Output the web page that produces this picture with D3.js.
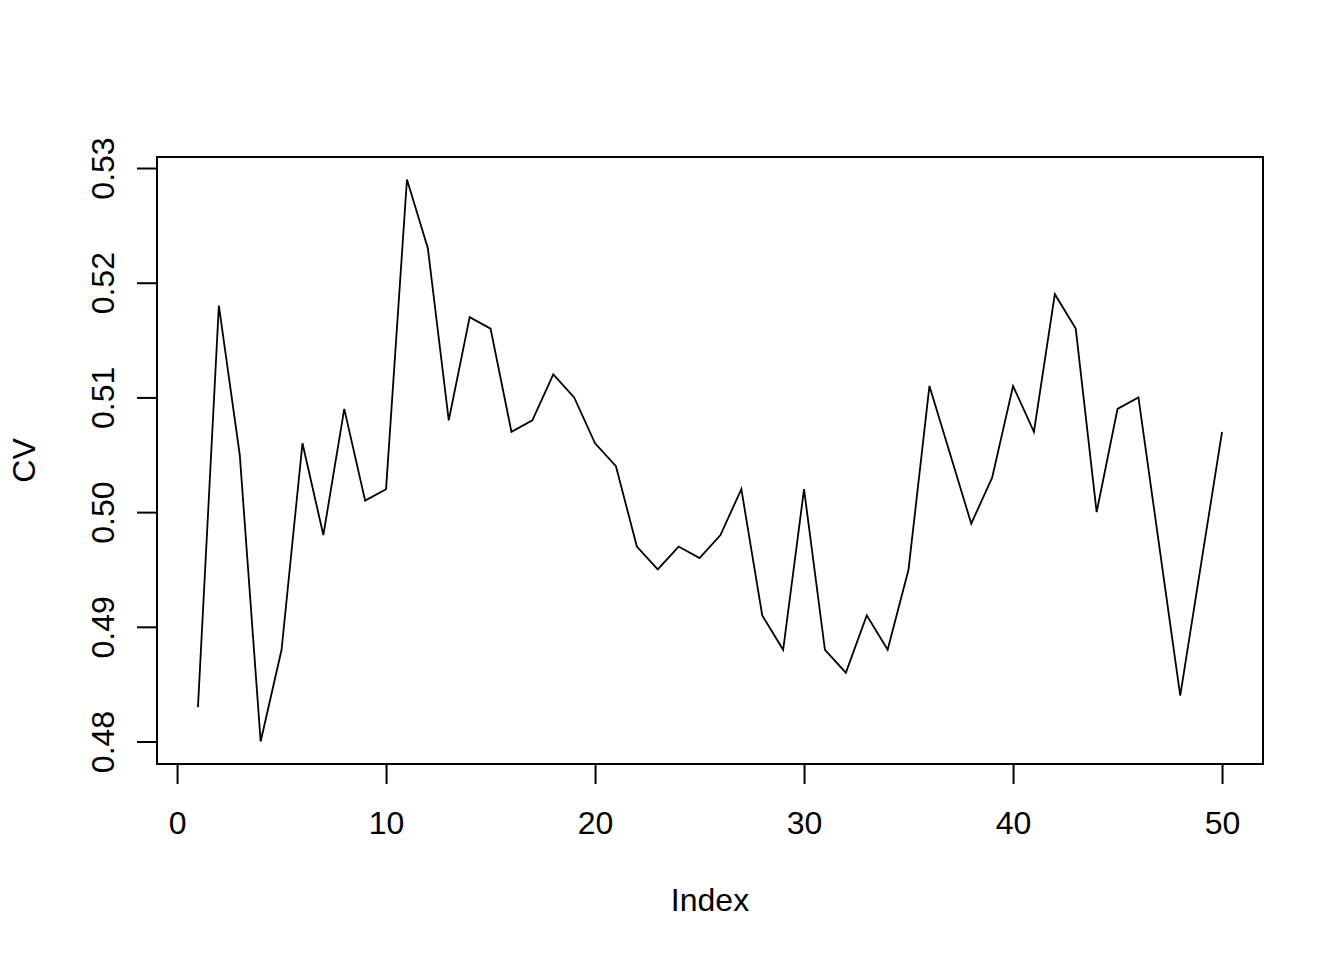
<!DOCTYPE html>
<html><head><meta charset="utf-8">
<script src="https://cdn.jsdelivr.net/npm/d3@7"></script>
<style>body{margin:0;background:#fff}svg{display:block}text{font-family:"Liberation Sans",Arial,sans-serif;fill:#000}</style>
</head><body>
<script>
const cvValues = [0.483,0.518,0.505,0.480,0.488,0.506,0.498,0.509,0.501,0.502,
  0.529,0.523,0.508,0.517,0.516,0.507,0.508,0.512,0.510,0.506,
  0.504,0.497,0.495,0.497,0.496,0.498,0.502,0.491,0.488,0.502,
  0.488,0.486,0.491,0.488,0.495,0.511,0.505,0.499,0.503,0.511,
  0.507,0.519,0.516,0.500,0.509,0.510,0.497,0.484,0.4955,0.507];
const indexValues = cvValues.map((d,i)=>i+1);
const xTicks = [0,10,20,30,40,50];
const yTicks = [0.48,0.49,0.50,0.51,0.52,0.53];
const xLabel = "Index", yLabel = "CV";

const W=1344,H=960, L=157,R=1263,T=157,B=764;
const svg=d3.select("body").append("svg").attr("width",W).attr("height",H);
const xr=d3.extent(indexValues), yr=d3.extent(cvValues);
const xp=(xr[1]-xr[0])*0.04, yp=(yr[1]-yr[0])*0.04;
const x=d3.scaleLinear().domain([xr[0]-xp,xr[1]+xp]).range([L,R]);
const y=d3.scaleLinear().domain([yr[0]-yp,yr[1]+yp]).range([B,T]);

svg.append("path").datum(cvValues)
  .attr("d",d3.line().x((d,i)=>x(indexValues[i])).y(d=>y(d)))
  .attr("fill","none").attr("stroke","#000").attr("stroke-width",1.8).attr("stroke-linejoin","miter");

svg.append("rect").attr("x",L).attr("y",T).attr("width",R-L).attr("height",B-T)
  .attr("fill","none").attr("stroke","#000").attr("stroke-width",2);

// x axis
const xa=svg.append("g").attr("transform",`translate(0,${B})`)
  .call(d3.axisBottom(x).tickValues(xTicks).tickSize(20).tickPadding(0).tickFormat(d3.format("d")));
xa.select(".domain").attr("d",`M${x(xTicks[0])},0H${x(xTicks[xTicks.length-1])}`).attr("stroke-width",2);
xa.selectAll(".tick line").attr("stroke-width",2);
xa.selectAll(".tick text").attr("y",null).attr("dy",null).attr("transform","translate(0,70)")
  .style("font-size","32px").attr("font-family",null);

// y axis
const ya=svg.append("g").attr("transform",`translate(${L},0)`)
  .call(d3.axisLeft(y).tickValues(yTicks).tickSize(20).tickFormat(d3.format(".2f")));
ya.select(".domain").attr("d",`M0,${y(yTicks[0])}V${y(yTicks[yTicks.length-1])}`).attr("stroke-width",2);
ya.selectAll(".tick line").attr("stroke-width",2);
ya.selectAll(".tick text").attr("x",null).attr("dy",null)
  .attr("transform","translate(-43,0) rotate(-90)").attr("text-anchor","middle")
  .style("font-size","32px").attr("font-family",null);

svg.append("text").attr("x",(L+R)/2).attr("y",911).attr("text-anchor","middle")
  .style("font-size","32px").text(xLabel);
svg.append("text").attr("transform",`translate(35,${(T+B)/2}) rotate(-90)`).attr("text-anchor","middle")
  .style("font-size","32px").text(yLabel);
</script>
</body></html>
